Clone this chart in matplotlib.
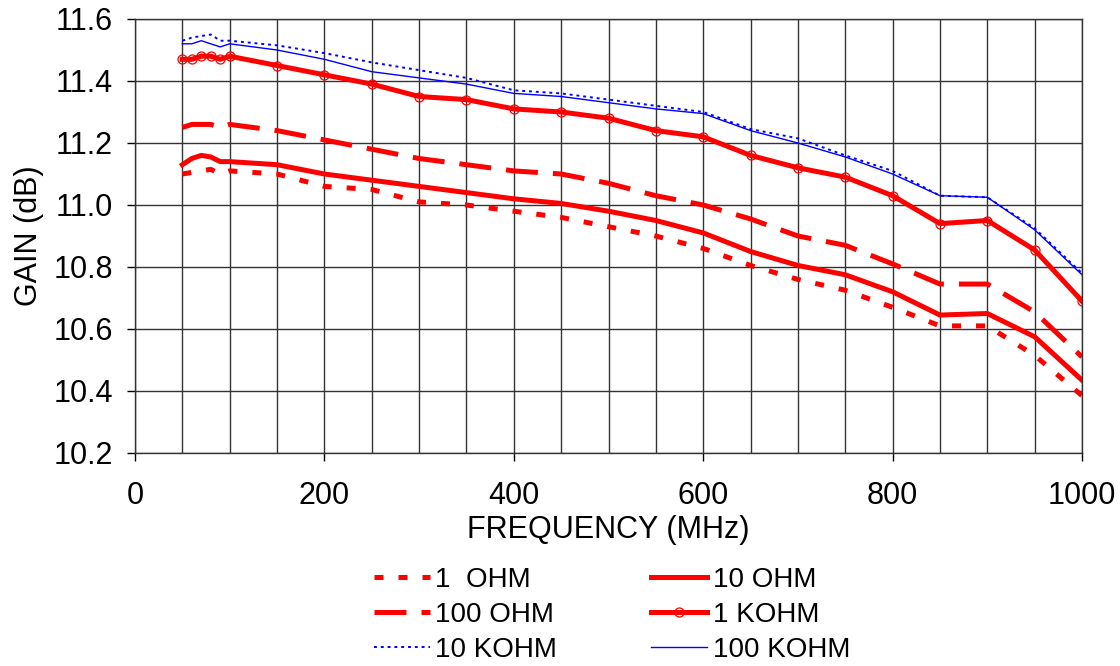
import matplotlib
matplotlib.use("Agg")
import matplotlib.pyplot as plt
from matplotlib.ticker import MultipleLocator

plt.rcParams['font.family'] = ['Liberation Sans', 'DejaVu Sans']

# frequencies (MHz)
freq = [50, 60, 70, 80, 90, 100, 150, 200, 250, 300, 350, 400, 450, 500,
        550, 600, 650, 700, 750, 800, 850, 900, 950, 1000]

# gain (dB) per load resistance
gain_1ohm = [11.10, 11.105, 11.11, 11.115, 11.10, 11.11, 11.10, 11.06, 11.05, 11.01,
             11.00, 10.98, 10.96, 10.93, 10.90, 10.86, 10.805, 10.76, 10.725, 10.67,
             10.61, 10.61, 10.515, 10.385]
gain_10ohm = [11.13, 11.15, 11.16, 11.155, 11.14, 11.14, 11.13, 11.10, 11.08, 11.06,
              11.04, 11.02, 11.005, 10.98, 10.95, 10.91, 10.85, 10.805, 10.775, 10.72,
              10.645, 10.65, 10.575, 10.435]
gain_100ohm = [11.25, 11.26, 11.26, 11.26, 11.25, 11.26, 11.24, 11.21, 11.18, 11.15,
               11.13, 11.11, 11.10, 11.07, 11.03, 11.00, 10.955, 10.90, 10.87, 10.81,
               10.745, 10.745, 10.655, 10.51]
gain_1k = [11.47, 11.47, 11.48, 11.48, 11.47, 11.48, 11.45, 11.42, 11.39, 11.35,
           11.34, 11.31, 11.30, 11.28, 11.24, 11.22, 11.16, 11.12, 11.09, 11.03,
           10.94, 10.95, 10.855, 10.69]
gain_10k = [11.53, 11.54, 11.545, 11.55, 11.53, 11.53, 11.515, 11.49, 11.46, 11.435,
            11.41, 11.37, 11.36, 11.34, 11.32, 11.30, 11.245, 11.215, 11.16, 11.11,
            11.03, 11.025, 10.925, 10.78]
gain_100k = [11.52, 11.52, 11.53, 11.52, 11.51, 11.52, 11.50, 11.47, 11.43, 11.41,
             11.39, 11.36, 11.35, 11.33, 11.31, 11.295, 11.24, 11.20, 11.155, 11.10,
             11.03, 11.025, 10.92, 10.775]

fig = plt.figure(figsize=(11.2, 6.66), dpi=100)
ax = fig.add_axes([135 / 1120, 1 - 453 / 666, (1082 - 135) / 1120, (453 - 19) / 666])

red = '#FF0000'
blue = '#0000FF'
thick = 3.6

l1, = ax.plot(freq, gain_1ohm, color=red, lw=thick, dashes=(1.8, 3.0), label='1  OHM')
l2, = ax.plot(freq, gain_10ohm, color=red, lw=thick, label='10 OHM')
l3, = ax.plot(freq, gain_100ohm, color=red, lw=thick, dashes=(6.4, 3.0), label='100 OHM')
l4, = ax.plot(freq, gain_1k, color=red, lw=thick, marker='o', ms=6.5, mfc='none',
              mec=red, mew=0.9, label='1 KOHM')
l5, = ax.plot(freq, gain_10k, color=blue, lw=1.4, dashes=(1.5, 2.0), label='10 KOHM')
l6, = ax.plot(freq, gain_100k, color=blue, lw=1.0, label='100 KOHM')

ax.set_xlim(0, 1000)
ax.set_ylim(10.2, 11.6)
ax.xaxis.set_major_locator(MultipleLocator(200))
ax.xaxis.set_minor_locator(MultipleLocator(50))
ax.yaxis.set_major_locator(MultipleLocator(0.2))
ax.yaxis.set_major_formatter(plt.FormatStrFormatter('%.1f'))

ax.grid(True, which='both', axis='x', color='#333333', lw=1.0)
ax.grid(True, which='major', axis='y', color='#333333', lw=1.0)
ax.set_axisbelow(True)
ax.tick_params(which='major', direction='out', length=6, width=1, labelsize=22, color='black')
ax.tick_params(axis='x', which='major', pad=14)
ax.tick_params(axis='y', which='major', pad=10)
ax.tick_params(which='minor', length=0)
for s in ax.spines.values():
    s.set_color('#333333')
    s.set_linewidth(1.0)

ax.set_xlabel('FREQUENCY (MHz)', fontsize=22, labelpad=3)
ax.set_ylabel('GAIN (dB)', fontsize=22, labelpad=7)

fig.legend([l1, l3, l5, l2, l4, l6],
           ['1  OHM', '100 OHM', '10 KOHM', '10 OHM', '1 KOHM', '100 KOHM'],
           ncol=2, loc='upper left', bbox_to_anchor=(374 / 1120, 1 - 567 / 666),
           frameon=False, fontsize=20, handlelength=2.0, handletextpad=0.2,
           columnspacing=3.4, labelspacing=0.32, borderpad=0, borderaxespad=0,
           numpoints=1)

fig.savefig('out.png', dpi=100)
